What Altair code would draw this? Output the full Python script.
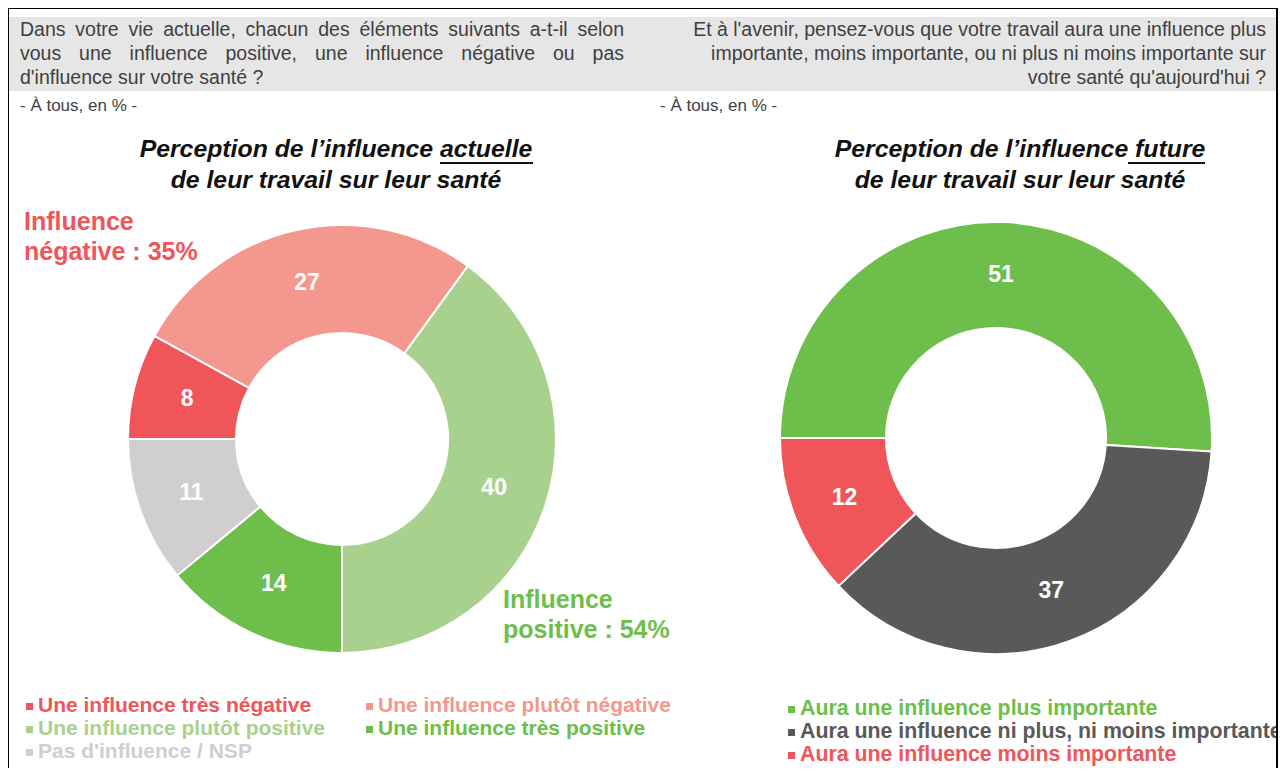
import math
import altair as alt
import pandas as pd

FONT = "Liberation Sans"

# ---------------- data ----------------
cur_labels = ["Une influence plutôt positive", "Une influence très positive",
              "Pas d'influence / NSP", "Une influence très négative",
              "Une influence plutôt négative"]
cur_values = [40, 14, 11, 8, 27]
cur_colors = ["#A9D18E", "#6DBE4A", "#D0CECE", "#F0555A", "#F4978E"]

fut_labels = ["Aura une influence plus importante",
              "Aura une influence ni plus, ni moins importante",
              "Aura une influence moins importante"]
fut_values = [51, 37, 12]
fut_colors = ["#6EBE4B", "#595959", "#F0555A"]

header_left = ["Dans votre vie actuelle, chacun des éléments suivants a-t-il selon",
               "vous une influence positive, une influence négative ou pas",
               "d'influence sur votre santé ?"]
header_right = ["Et à l'avenir, pensez-vous que votre travail aura une influence plus",
                "importante, moins importante, ou ni plus ni moins importante sur",
                "votre santé qu'aujourd'hui ?"]
base_note = "- À tous, en % -"
title_left = ["Perception de l\u2019influence actuelle", "de leur travail sur leur santé"]
title_right = ["Perception de l\u2019influence future", "de leur travail sur leur santé"]
annot_neg = ["Influence", "négative : 35%"]
annot_pos = ["Influence", "positive : 54%"]

W, H = 1272, 760
one = pd.DataFrame({"a": [0]})
layers = []

# approximate Arial / Liberation Sans advance widths (per 1000 em)
AW = {" ": 278, ",": 278, ".": 278, "-": 333, "'": 191, "?": 556, "D": 722}
for ch in "abdeghnopquéèàôû":
    AW[ch] = 556
for ch in "ckstvxyz":
    AW[ch] = 500
AW.update({"f": 278, "i": 222, "j": 222, "l": 222, "m": 833, "r": 333, "t": 278, "w": 722})


def text_w(s, size):
    return sum(AW.get(c, 556) for c in s) * size / 1000.0


def txt(s, x, y, size, color="#3F3F3F", align="left", weight="normal", style="normal"):
    return alt.Chart(pd.DataFrame({"t": [s]})).mark_text(
        font=FONT, fontSize=size, fontWeight=weight, fontStyle=style,
        align=align, baseline="middle", color=color
    ).encode(x=alt.value(x), y=alt.value(y), text="t:N")


def justified(line, x0, x1, y, size):
    words = line.split(" ")
    widths = [text_w(w, size) for w in words]
    gap = (x1 - x0 - sum(widths)) / (len(words) - 1)
    out, x = [], x0
    for w, wd in zip(words, widths):
        out.append(txt(w, x, y, size))
        x += wd + gap
    return out


def rule(x, y, x2, y2, color="black", width=2):
    return alt.Chart(one).mark_rule(color=color, strokeWidth=width).encode(
        x=alt.value(x), y=alt.value(y), x2=alt.value(x2), y2=alt.value(y2))


def rect(x, y, x2, y2, color):
    return alt.Chart(one).mark_rect(color=color).encode(
        x=alt.value(x), y=alt.value(y), x2=alt.value(x2), y2=alt.value(y2))


HS = 19.5
# header band
layers.append(rect(0, 9, 1268, 83, "#E7E6E6"))
layers += justified(header_left[0], 12, 616, 22, HS)
layers += justified(header_left[1], 12, 616, 46, HS)
layers.append(txt(header_left[2], 12, 70, HS))
for i, s in enumerate(header_right):
    layers.append(txt(s, 1258, 22 + i * 24, HS, align="right"))
layers.append(txt(base_note, 12, 98, 17))
layers.append(txt(base_note, 652, 98, 17))

# titles
for i, s in enumerate(title_left):
    layers.append(txt(s, 328, 142 + i * 31, 24.8, color="#111111", align="center",
                      weight="bold", style="italic"))
for i, s in enumerate(title_right):
    layers.append(txt(s, 1012, 142 + i * 31, 24.8, color="#111111", align="center",
                      weight="bold", style="italic"))
layers.append(rule(432, 155, 525, 155, color="#111111", width=2))
layers.append(rule(1120, 155, 1197, 155, color="#111111", width=2))


def donut(labels, values, colors, cx, cy, r_in, r_out, start_deg):
    df = pd.DataFrame({"cat": labels, "val": values, "idx": list(range(len(labels)))})
    start = math.radians(start_deg)
    total = sum(values)
    theta = alt.Theta("val:Q", stack=True,
                      scale=alt.Scale(domain=[0, total], range=[start, start + 2 * math.pi]))
    base = alt.Chart(df).encode(theta=theta, order=alt.Order("idx:Q"))
    arcs = base.mark_arc(innerRadius=r_in, outerRadius=r_out, stroke="white",
                         strokeWidth=2).encode(
        color=alt.Color("cat:N", scale=alt.Scale(domain=labels, range=colors), legend=None),
        x=alt.value(cx), y=alt.value(cy))
    texts = base.mark_text(radius=(r_in + r_out) / 2, font=FONT, fontSize=23,
                           fontWeight="bold", color="white").encode(
        text="val:Q", detail="cat:N", x=alt.value(cx), y=alt.value(cy))
    return [arcs, texts]


layers += donut(cur_labels, cur_values, cur_colors, 334, 431, 106, 214, 36)
layers += donut(fut_labels, fut_values, fut_colors, 988, 430, 110, 216, 270)

# annotations
for i, s in enumerate(annot_neg):
    layers.append(txt(s, 16, 214 + i * 30, 25, color="#F0555A", weight="bold"))
for i, s in enumerate(annot_pos):
    layers.append(txt(s, 495, 592 + i * 30, 25, color="#6EBE4B", weight="bold"))

# legends (left)
leg_left = [(cur_labels[3], cur_colors[3], 16, 698),
            (cur_labels[4], cur_colors[4], 356, 698),
            (cur_labels[0], cur_colors[0], 16, 721),
            (cur_labels[1], cur_colors[1], 356, 721),
            (cur_labels[2], cur_colors[2], 16, 744)]
for lab, col, x, y in leg_left:
    layers.append(rect(x + 2, y - 3, x + 9, y + 4, col))
    layers.append(txt(lab, x + 14, y, 21, color=col, weight="bold"))

# legends (right)
for i, (lab, col) in enumerate(zip(fut_labels, fut_colors)):
    x, y = 778, 701 + i * 23
    layers.append(rect(x + 2, y - 3, x + 9, y + 4, col))
    layers.append(txt(lab, x + 14, y, 21.3, color=col, weight="bold"))

# frame
layers.append(rect(1270, 0, W, H, "white"))
layers.append(rule(0, 0, 0, H))
layers.append(rule(0, 0, 1269, 0))
layers.append(rule(1269, 0, 1269, H))

chart = alt.layer(*layers).resolve_scale(
    theta="independent", color="independent"
).properties(
    width=W, height=H, padding=0, autosize="none"
).configure_view(stroke=None)

chart.save("out.html", embed_options={"renderer": "svg", "actions": False})
